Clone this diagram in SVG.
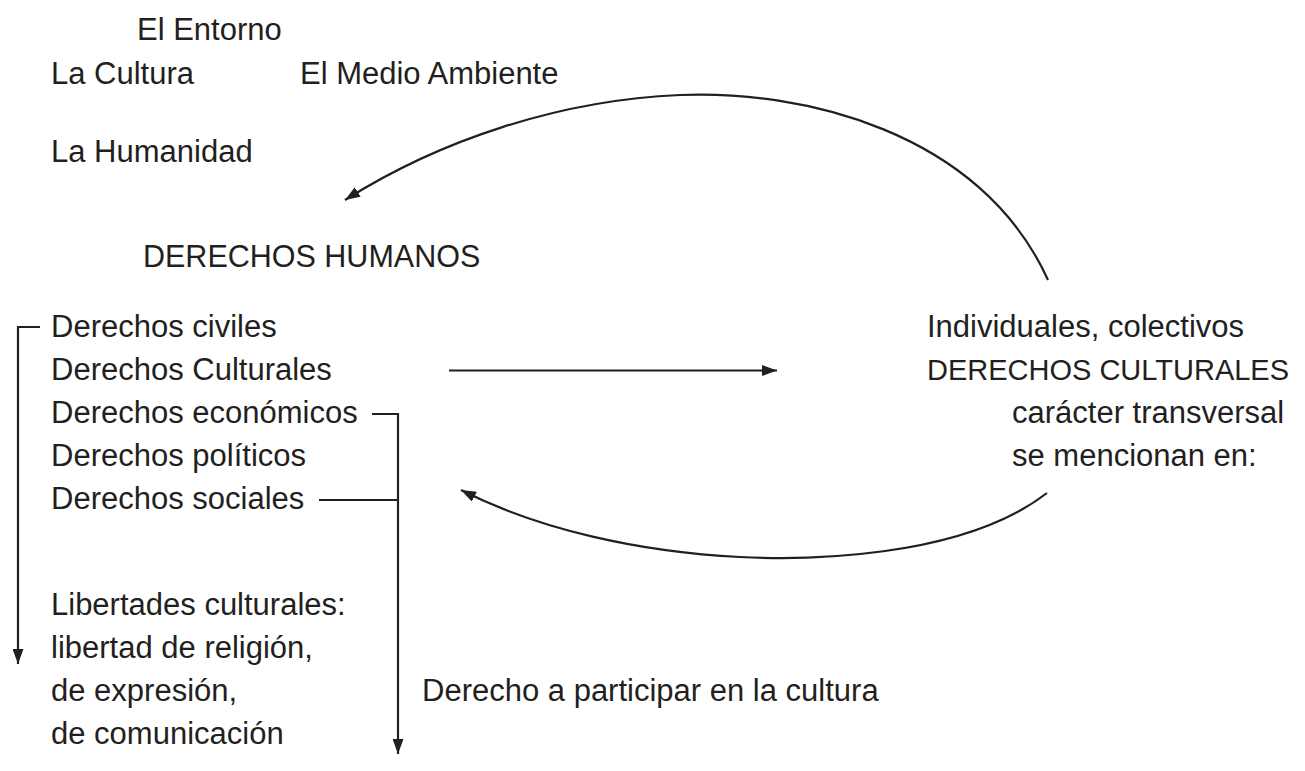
<svg xmlns="http://www.w3.org/2000/svg" width="1305" height="771" viewBox="0 0 1305 771">
<defs>
<style>
text{font-family:"Liberation Sans",Arial,sans-serif;font-size:31px;fill:#231f20}
.caps{font-size:29px}
.ln{fill:none;stroke:#231f20;stroke-width:2.2}
</style>
<marker id="ah" viewBox="0 0 15 11" refX="15" refY="5.5" markerWidth="15" markerHeight="11" markerUnits="userSpaceOnUse" orient="auto">
<path d="M0 0 L15 5.5 L0 11 Z" fill="#231f20"/>
</marker>
</defs>
<rect width="1305" height="771" fill="#fff"/>
<g id="n-entorno"><text x="137" y="40">El Entorno</text></g>
<g id="n-cultura"><text x="51" y="84">La Cultura</text></g>
<g id="n-medio"><text x="300" y="84">El Medio Ambiente</text></g>
<g id="n-humanidad"><text x="51" y="162">La Humanidad</text></g>
<g id="n-dh"><text class="caps" x="143" y="267" style="font-size:30.5px">DERECHOS HUMANOS</text></g>
<g id="n-lista">
<text x="51" y="337">Derechos civiles</text>
<text x="51" y="380">Derechos Culturales</text>
<text x="51" y="423">Derechos económicos</text>
<text x="51" y="466">Derechos políticos</text>
<text x="51" y="509">Derechos sociales</text>
</g>
<g id="n-libertades">
<text x="51" y="615">Libertades culturales:</text>
<text x="51" y="658">libertad de religión,</text>
<text x="51" y="701">de expresión,</text>
<text x="51" y="744">de comunicación</text>
</g>
<g id="n-participar"><text x="422" y="701">Derecho a participar en la cultura</text></g>
<g id="n-dc">
<text x="927" y="337">Individuales, colectivos</text>
<text class="caps" x="927" y="380">DERECHOS CULTURALES</text>
<text x="1012" y="423">carácter transversal</text>
<text x="1012" y="466">se mencionan en:</text>
</g>
<g id="connectors">
<path class="ln" d="M40 327 H18 V664" marker-end="url(#ah)"/>
<path class="ln" d="M372 414 H398 V754" marker-end="url(#ah)"/>
<path class="ln" d="M319 500 H398"/>
<path class="ln" d="M449 370.5 H777" marker-end="url(#ah)"/>
<path class="ln" d="M1048 280 C980 130 800 90 680 95 C560 100 440 140 345 200" marker-end="url(#ah)"/>
<path class="ln" d="M1047 493 C960 560 800 560 740 557 C640 552 540 530 461 490" marker-end="url(#ah)"/>
</g>
</svg>
